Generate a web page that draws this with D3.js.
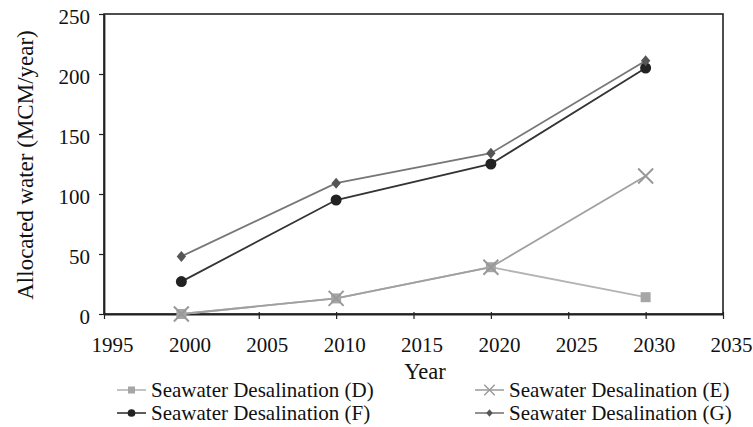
<!DOCTYPE html>
<html>
<head>
<meta charset="utf-8">
<script src="https://cdn.jsdelivr.net/npm/d3@7"></script>
<style>
  html, body { margin: 0; padding: 0; background: #fff; }
  svg { display: block; }
  svg text { font-family: 'Liberation Serif', 'Times New Roman', Times, 'DejaVu Serif', serif; }
</style>
</head>
<body>
<svg id="chart" width="753" height="427"></svg>
<script>
// Allocated seawater desalination per scenario (MCM/year)
const years = [2000, 2010, 2020, 2030];
const seriesD = [0, 13, 39, 14];
const seriesE = [0, 13, 39, 115];
const seriesF = [27, 95, 125, 205];
const seriesG = [48, 109, 134, 211];
const seriesNames = ["Seawater Desalination (D)", "Seawater Desalination (E)",
                     "Seawater Desalination (F)", "Seawater Desalination (G)"];
const xTicks = [1995, 2000, 2005, 2010, 2015, 2020, 2025, 2030, 2035];
const yTicks = [0, 50, 100, 150, 200, 250];

const SERIF = "'Liberation Serif', 'Times New Roman', Times, 'DejaVu Serif', serif";

const svg = d3.select("#chart");
const m = { left: 104, top: 14, right: 723, bottom: 314 };

const x = d3.scaleLinear().domain([1995, 2035]).range([m.left, m.right]);
const y = d3.scaleLinear().domain([0, 250]).range([m.bottom, m.top]);

// frame
svg.append("rect")
  .attr("x", m.left).attr("y", m.top)
  .attr("width", m.right - m.left).attr("height", m.bottom - m.top)
  .attr("fill", "none").attr("stroke", "#222").attr("stroke-width", 1.6);

// axes
const xAxis = svg.append("g").attr("transform", `translate(0,${m.bottom})`)
  .call(d3.axisBottom(x).tickValues(xTicks).tickFormat(d3.format("d")).tickSize(5).tickSizeOuter(0));
const yAxis = svg.append("g").attr("transform", `translate(${m.left},0)`)
  .call(d3.axisLeft(y).tickValues(yTicks).tickSize(5).tickSizeOuter(0));
[xAxis, yAxis].forEach(a => {
  a.attr("font-family", SERIF).attr("font-size", 21);
  a.select(".domain").attr("stroke", "#222").attr("stroke-width", 1.8);
  a.selectAll(".tick line").attr("stroke", "#222").attr("stroke-width", 1.2);
  a.selectAll(".tick text").attr("fill", "#111")
    .style("font-family", SERIF).style("font-size", "21px");
});
xAxis.selectAll(".tick line").attr("y1", -2).attr("y2", 5);
xAxis.selectAll(".tick text").attr("dy", 0).attr("y", 38).attr("x", 8);
yAxis.selectAll(".tick text").attr("x", -14).attr("y", 3);

// axis titles
svg.append("text").attr("x", 425).attr("y", 379).attr("text-anchor", "middle")
  .style("font-family", SERIF).attr("font-size", 22.5).attr("fill", "#111").text("Year");
svg.append("text").attr("transform", "translate(33,165) rotate(-90)")
  .style("font-family", SERIF)
  .attr("text-anchor", "middle").attr("font-size", 23).attr("fill", "#111")
  .text("Allocated water (MCM/year)");

const series = [
  { name: seriesNames[0], values: seriesD, line: "#b4b4b4", fill: "#a6a6a6", shape: "square" },
  { name: seriesNames[1], values: seriesE, line: "#a0a0a0", fill: "#999", shape: "x" },
  { name: seriesNames[2], values: seriesF, line: "#333", fill: "#222", shape: "circle" },
  { name: seriesNames[3], values: seriesG, line: "#777", fill: "#555", shape: "diamond" }
];

const line = d3.line().x((d, i) => x(years[i])).y(d => y(d));

function marker(g, shape, cx, cy, color, s) {
  if (shape === "square") {
    g.append("rect").attr("x", cx - 5 * s).attr("y", cy - 5 * s)
      .attr("width", 10 * s).attr("height", 10 * s).attr("fill", color);
  } else if (shape === "x") {
    const r = 7.5 * s;
    g.append("path").attr("d", `M${cx - r},${cy - r}L${cx + r},${cy + r}M${cx - r},${cy + r}L${cx + r},${cy - r}`)
      .attr("stroke", color).attr("stroke-width", 2 * Math.max(s, 0.6));
  } else if (shape === "circle") {
    g.append("circle").attr("cx", cx).attr("cy", cy).attr("r", 5.5 * s).attr("fill", color);
  } else {
    const r = 5.5 * s;
    g.append("path").attr("d", `M${cx},${cy - r}L${cx + r * 0.85},${cy}L${cx},${cy + r}L${cx - r * 0.85},${cy}Z`)
      .attr("fill", color);
  }
}

const plot = svg.append("g");
series.forEach(s => {
  plot.append("path").datum(s.values).attr("d", line)
    .attr("fill", "none").attr("stroke", s.line).attr("stroke-width", 1.8);
});
series.forEach(s => {
  s.values.forEach((v, i) => marker(plot, s.shape, x(years[i]), y(v), s.fill, 1));
});

// legend
const legendPos = [
  { x: 117, y: 390 }, { x: 475, y: 390 },
  { x: 117, y: 413 }, { x: 475, y: 413 }
];
series.forEach((s, i) => {
  const p = legendPos[i];
  const g = svg.append("g");
  g.append("line").attr("x1", p.x).attr("x2", p.x + 29).attr("y1", p.y).attr("y2", p.y)
    .attr("stroke", s.line).attr("stroke-width", 1.6);
  marker(g, s.shape, p.x + 14.5, p.y, s.fill, 0.7);
  g.append("text").attr("x", p.x + 34).attr("y", p.y + 7)
    .style("font-family", SERIF).attr("font-size", 21).attr("fill", "#111").text(s.name);
});
</script>
</body>
</html>
